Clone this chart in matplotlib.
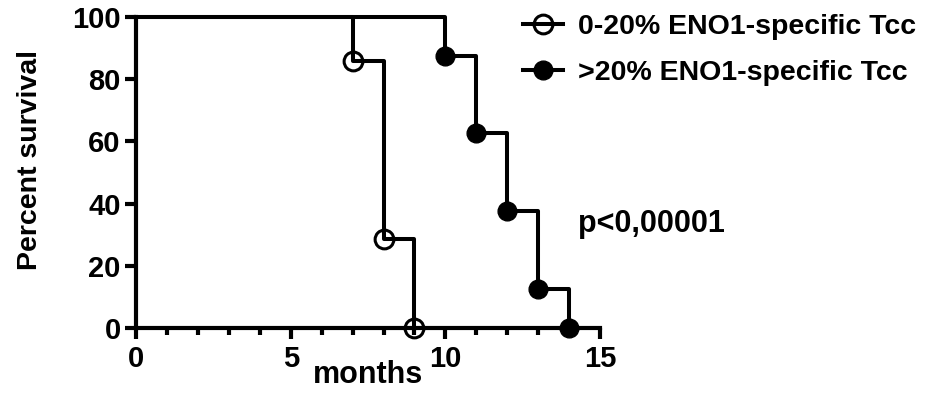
import matplotlib.pyplot as plt
plt.switch_backend('agg')
from matplotlib.lines import Line2D
from matplotlib.ticker import MultipleLocator

# survival data
low_months = [0, 7, 8, 9]
low_surv = [100, 85.7, 28.6, 0]
high_months = [0, 10, 11, 12, 13, 14]
high_surv = [100, 87.5, 62.5, 37.5, 12.5, 0]
labels = ["0-20% ENO1-specific Tcc", ">20% ENO1-specific Tcc"]
p_text = "p<0,00001"

plt.rcParams['font.family'] = ['Liberation Sans', 'DejaVu Sans']
plt.rcParams['font.weight'] = 'bold'

fig = plt.figure(figsize=(9.45, 3.94), dpi=100)
ax = fig.add_axes([0.144, 0.1675, 0.491, 0.79])

lw = 2.9
ms = 13.5
ax.step(low_months, low_surv, where='post', color='black', lw=lw, clip_on=False)
ax.step(high_months, high_surv, where='post', color='black', lw=lw, clip_on=False)
ax.plot(low_months[1:], low_surv[1:], 'o', ms=ms, mfc='none', mec='black', mew=2.2,
        clip_on=False, zorder=5)
ax.plot(high_months[1:], high_surv[1:], 'o', ms=ms, mfc='black', mec='black',
        clip_on=False, zorder=5)

ax.set_xlim(0, 15)
ax.set_ylim(0, 100)
ax.xaxis.set_major_locator(MultipleLocator(5))
ax.xaxis.set_minor_locator(MultipleLocator(1))
ax.yaxis.set_major_locator(MultipleLocator(20))

for s in ['top', 'right']:
    ax.spines[s].set_visible(False)
for s in ['left', 'bottom']:
    ax.spines[s].set_linewidth(3)

ax.tick_params(axis='both', which='major', direction='out', length=8, width=3,
               labelsize=21)
ax.tick_params(axis='y', which='major', pad=3)
ax.tick_params(axis='x', which='major', pad=4)
ax.tick_params(axis='x', which='minor', direction='out', length=5, width=3)

ax.set_xlabel("months", fontsize=22, fontweight='bold')
ax.xaxis.set_label_coords(0.499, -0.151)
ax.xaxis.label.set_va('center')
ax.set_ylabel("Percent survival", fontsize=20.5, fontweight='bold')
ax.yaxis.set_label_coords(-0.228, 0.54)
ax.yaxis.label.set_va('center')

handles = [
    Line2D([], [], color='black', lw=lw, marker='o', ms=ms, mfc='none', mew=2.2),
    Line2D([], [], color='black', lw=lw, marker='o', ms=ms, mfc='black'),
]
fig.legend(handles, labels, loc='upper left', bbox_to_anchor=(523 / 945, 0.964),
           frameon=False, handlelength=1.4, handletextpad=0.53,
           labelspacing=0.70, borderpad=0, borderaxespad=0,
           prop={'weight': 'bold', 'size': 20.5})

ax.text(14.3, 33.5, p_text, fontsize=22, fontweight='bold', va='center',
        ha='left', clip_on=False)

fig.savefig("out.png", dpi=100)
